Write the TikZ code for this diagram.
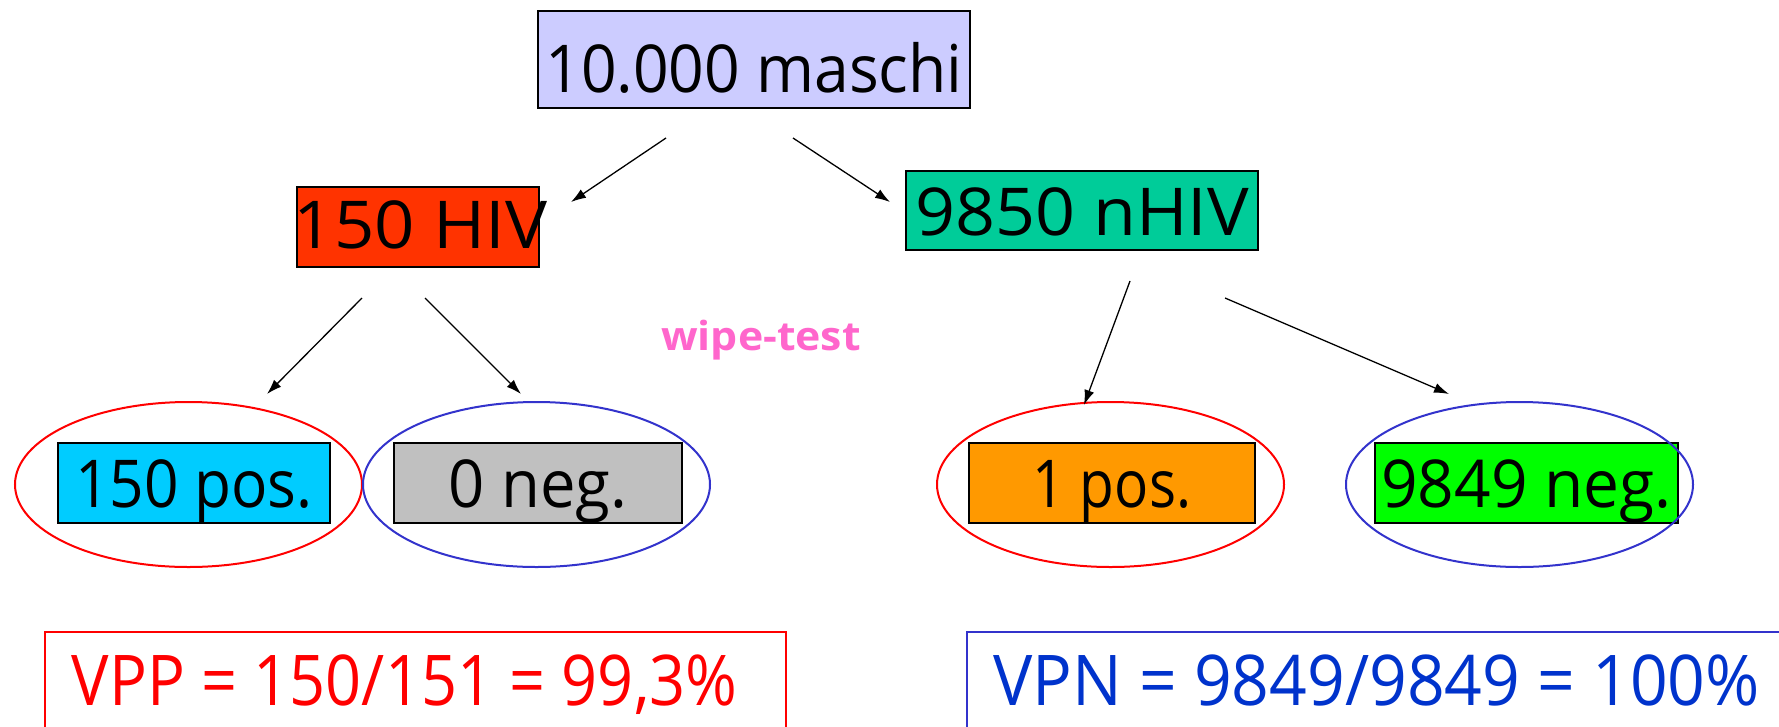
\documentclass[tikz,border=0pt]{standalone}
\usepackage{fontspec}
\setmainfont{Open Sans}
\usetikzlibrary{shapes.geometric,arrows.meta}
\definecolor{cTop}{HTML}{CCCCFF}
\definecolor{cHIV}{HTML}{FF3300}
\definecolor{cNHIV}{HTML}{00CC99}
\definecolor{cPos}{HTML}{00CCFF}
\definecolor{cNeg}{HTML}{C0C0C0}
\definecolor{cOne}{HTML}{FF9900}
\definecolor{cGreen}{HTML}{00FF00}
\definecolor{cRed}{HTML}{FF0000}
\definecolor{cBlueE}{HTML}{3333CC}
\definecolor{cBlueT}{HTML}{0033CC}
\definecolor{cPink}{HTML}{FF66CC}
\newcommand{\hs}[2]{\scalebox{#1}[1]{#2}}
\begin{document}
\begin{tikzpicture}[x=1pt,y=-1pt,
  box/.style={draw=black,line width=2pt,rectangle,inner sep=0pt,text depth=0pt,
    font=\fontsize{66}{78}\selectfont},
  oval/.style={ellipse,draw,line width=2pt,minimum width=347pt,minimum height=165pt,inner sep=0pt},
  arr/.style={line width=1.3pt,-{Latex[length=15pt,width=10pt]}},
  res/.style={rectangle,draw,line width=1.6pt,inner sep=0pt,text depth=0pt,
    font=\fontsize{70}{82}\selectfont}
]
\clip (0,0) rectangle (1779,726);
\fill[white] (0,0) rectangle (1779,726);

% boxes
\node[box,fill=cTop,minimum width=432pt,minimum height=97pt,text height=65pt] (top) at (754,59.5) {\hs{0.945}{10.000 maschi}};
\node[box,fill=cHIV,minimum width=242pt,minimum height=80pt,text height=42pt] (hiv) at (418,227) {\makebox[0pt]{\hspace{5pt}\hs{1.07}{150 HIV}}};
\node[box,fill=cNHIV,minimum width=352pt,minimum height=79pt,text height=49pt] (nhiv) at (1082,210.5) {\hs{1.06}{9850 nHIV}};
\node[box,fill=cPos,minimum width=272pt,minimum height=80pt,text height=48pt] (pos) at (194,483) {\hs{0.915}{150 pos.}};
\node[box,fill=cNeg,minimum width=288pt,minimum height=80pt,text height=48pt] (neg) at (538,483) {\hs{0.96}{0 neg.}};
\node[box,fill=cOne,minimum width=286pt,minimum height=80pt,text height=48pt] (onepos) at (1112,483) {\hs{0.86}{1 pos.}};
\node[box,fill=cGreen,minimum width=303pt,minimum height=80pt,text height=48pt] (negb) at (1526.5,483) {\makebox[0pt]{\hs{0.97}{9849 neg.}}};

% ellipses
\node[oval,draw=cRed] (e1) at (188.5,484.5) {};
\node[oval,draw=cBlueE] (e2) at (536.5,484.5) {};
\node[oval,draw=cRed] (e3) at (1110.5,484.5) {};
\node[oval,draw=cBlueE] (e4) at (1519.5,484.5) {};

% wipe-test
\node[text=cPink,font=\fontsize{40}{46}\selectfont\bfseries,inner sep=0pt,anchor=base] (wipe) at (761,350) {\hs{1.07}{wipe-test}};

% arrow endpoints
\coordinate (a1s) at (666,138); \coordinate (a1e) at (571,202);
\coordinate (a2s) at (793,138); \coordinate (a2e) at (890,202);
\coordinate (a3s) at (362,298); \coordinate (a3e) at (267,394);
\coordinate (a4s) at (425,298); \coordinate (a4e) at (521,394);
\coordinate (a5s) at (1130,281); \coordinate (a5e) at (1084,405);
\coordinate (a6s) at (1225,298); \coordinate (a6e) at (1449,394);
\draw[arr] (a1s) -- (a1e);
\draw[arr] (a2s) -- (a2e);
\draw[arr] (a3s) -- (a3e);
\draw[arr] (a4s) -- (a4e);
\draw[arr] (a5s) -- (a5e);
\draw[arr] (a6s) -- (a6e);

% results
\node[res,draw=cRed,text=cRed,minimum width=741pt,minimum height=120pt,text height=26pt] (vpp) at (415.5,692) {\hspace{-22pt}\hs{0.9}{VPP = 150/151 = 99,3\%}};
\node[res,draw=cBlueE,text=cBlueT,minimum width=833pt,minimum height=120pt,text height=26pt] (vpn) at (1383.5,692) {\hspace{-14pt}\hs{0.943}{VPN = 9849/9849 = 100\%}};
\end{tikzpicture}
\end{document}
